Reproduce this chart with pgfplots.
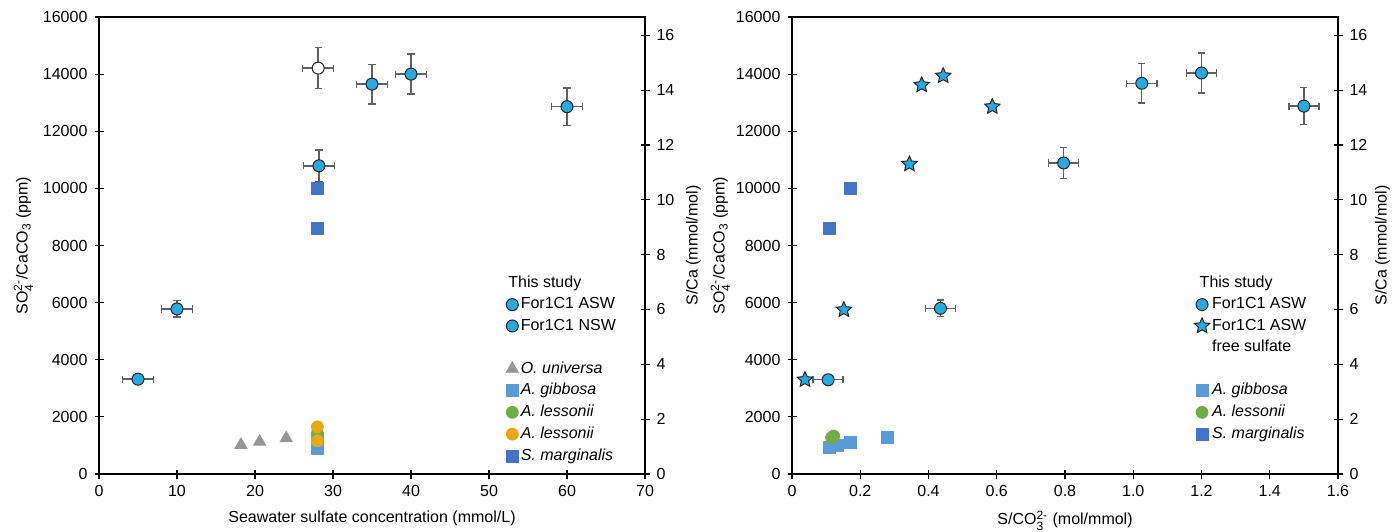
\documentclass[border=0pt]{standalone}
\usepackage{amsmath}
\usepackage{fontspec}
\setmainfont{Liberation Sans}
\usepackage{pgfplots}
\pgfplotsset{compat=1.18}
\usetikzlibrary{plotmarks}

\definecolor{cblue}{RGB}{39,170,225}
\definecolor{cedge}{RGB}{35,35,35}
\definecolor{cgray}{RGB}{150,150,150}
\definecolor{cgib}{RGB}{91,155,213}
\definecolor{cgreen}{RGB}{112,173,71}
\definecolor{corange}{RGB}{232,168,20}
\definecolor{cmarg}{RGB}{68,114,196}
\definecolor{cerr}{RGB}{95,95,95}

% filled five-pointed star
\pgfdeclareplotmark{fstar}{%
  \pgfpathmoveto{\pgfpointpolar{90}{1.3\pgfplotmarksize}}%
  \pgfpathlineto{\pgfpointpolar{126}{0.62\pgfplotmarksize}}%
  \pgfpathlineto{\pgfpointpolar{162}{1.3\pgfplotmarksize}}%
  \pgfpathlineto{\pgfpointpolar{198}{0.62\pgfplotmarksize}}%
  \pgfpathlineto{\pgfpointpolar{234}{1.3\pgfplotmarksize}}%
  \pgfpathlineto{\pgfpointpolar{270}{0.62\pgfplotmarksize}}%
  \pgfpathlineto{\pgfpointpolar{306}{1.3\pgfplotmarksize}}%
  \pgfpathlineto{\pgfpointpolar{342}{0.62\pgfplotmarksize}}%
  \pgfpathlineto{\pgfpointpolar{18}{1.3\pgfplotmarksize}}%
  \pgfpathlineto{\pgfpointpolar{54}{0.62\pgfplotmarksize}}%
  \pgfpathclose
  \pgfusepathqfillstroke}

\pgfplotsset{
  panel/.style={
    width=273pt, height=228.5pt, scale only axis,
    ymin=0, ymax=16000, ytick={0,2000,...,16000},
    tick align=center, tick pos=left,
    major tick length=4.5pt,
    axis line style={line width=0.6pt},
    tick style={black, line width=0.6pt},
    scaled y ticks=false,
    yticklabel style={/pgf/number format/.cd, fixed, set thousands separator={}},
    /pgf/number format/assume math mode=true,
    ticklabel style={font=\fontsize{8}{9.6}\selectfont},
    label style={font=\fontsize{8}{9.6}\selectfont},
    ylabel={SO$_{\text{4}}^{\text{2-}}$/CaCO$_{\text{3}}$ (ppm)},
    legend style={draw=none, fill=none, font=\fontsize{8}{10.5}\selectfont,
      row sep=1.2pt, inner sep=0pt, cells={align=left},
      nodes={inner sep=1.2pt},
      /tikz/every even column/.style={column sep=0pt}},
    legend cell align=left,
  },
  twin/.style={
    width=273pt, height=228.5pt, scale only axis,
    axis x line=none, axis y line*=right,
    ymin=0, ymax=16.6667, ytick={0,2,...,16},
    tick align=center, major tick length=4.5pt,
    axis line style={line width=0.6pt},
    tick style={black, line width=0.6pt},
    /pgf/number format/assume math mode=true,
    ticklabel style={font=\fontsize{8}{9.6}\selectfont},
    label style={font=\fontsize{8}{9.6}\selectfont},
    ylabel={S/Ca (mmol/mol)},
  },
  ebars/.style={
    error bars/x dir=both, error bars/x explicit,
    error bars/y dir=both, error bars/y explicit,
    error bars/error bar style={cerr, line width=0.7pt},
    error bars/error mark options={rotate=90, mark size=1.8pt, cerr, line width=0.7pt},
  },
  bluedot/.style={only marks, mark=*, mark size=3.0pt,
    mark options={fill=cblue, draw=cedge, line width=0.5pt}},
  bluestar/.style={only marks, mark=fstar, mark size=3.1pt,
    mark options={fill=cblue, draw=cedge, line width=0.5pt}},
}
\newcommand{\txt}[1]{\textit{#1}}
\newcommand{\blank}{\vphantom{Ag}}

\begin{document}
\begin{tikzpicture}
\useasboundingbox (-49.5pt,-28.5pt) rectangle (650.5pt,237pt);

% ---------------- left panel ----------------
\begin{axis}[panel, at={(0pt,0pt)},
  xmin=0, xmax=70, xtick={0,10,...,70},
  ylabel shift=-2pt,
  xlabel={Seawater sulfate concentration (mmol/L)},
  legend style={at={(0.725,0.44)}, anchor=north west}]

\addplot[only marks, mark=triangle*, mark size=3.5pt, color=cgray, forget plot]
coordinates {(18.2,1020) (20.6,1130) (24.0,1250)};
\addplot[only marks, mark=square*, mark size=3pt, color=cgib, forget plot]
coordinates {(28,910) (28,1260)};
\addplot[only marks, mark=*, mark size=3pt, color=cgreen, forget plot]
coordinates {(28,1420)};
\addplot[only marks, mark=*, mark size=3pt, color=corange, forget plot]
coordinates {(28,1160) (28,1650)};
\addplot[only marks, mark=square*, mark size=3pt, color=cmarg, forget plot]
coordinates {(28,8600) (28,10000)};

\addplot[forget plot, only marks, mark=*, mark size=3.0pt,
  mark options={fill=white, draw=cedge, line width=0.5pt}, ebars]
table[x=x, y=y, x error=ex, y error=ey] {
x y ex ey
28.1 14210 2.0 720
};
\addplot[forget plot, bluedot, ebars]
table[x=x, y=y, x error=ex, y error=ey] {
x y ex ey
5 3320 2.0 120
10 5780 2.0 290
28.2 10790 2.0 550
35 13650 2.0 690
40 14000 2.0 700
60 12860 2.0 650
};

\addlegendimage{empty legend}\addlegendentry{\hspace*{-6.2pt}This study}
\addlegendimage{bluedot}\addlegendentry{For1C1 ASW}
\addlegendimage{bluedot}\addlegendentry{For1C1 NSW}
\addlegendimage{empty legend}\addlegendentry{\blank}
\addlegendimage{only marks, mark=triangle*, mark size=3.5pt, color=cgray}\addlegendentry{\txt{O. universa}}
\addlegendimage{only marks, mark=square*, mark size=3pt, color=cgib}\addlegendentry{\txt{A. gibbosa}}
\addlegendimage{only marks, mark=*, mark size=3pt, color=cgreen}\addlegendentry{\txt{A. lessonii}}
\addlegendimage{only marks, mark=*, mark size=3pt, color=corange}\addlegendentry{\txt{A. lessonii}}
\addlegendimage{only marks, mark=square*, mark size=3pt, color=cmarg}\addlegendentry{\txt{S. marginalis}}
\end{axis}
\begin{axis}[twin, at={(0pt,0pt)}, xmin=0, xmax=70, ylabel shift=-1pt]
\end{axis}

% ---------------- right panel ----------------
\begin{axis}[panel, at={(346.5pt,0pt)},
  xmin=0, xmax=1.6, xtick={0,0.2,...,1.6},
  xticklabels={0,0.2,0.4,0.6,0.8,1.0,1.2,1.4,1.6},
  ylabel shift=-4pt,
  xlabel={S/CO$_{\text{3}}^{\text{2-}}$ (mol/mmol)},
  legend style={at={(0.719,0.44)}, anchor=north west}]

\addplot[only marks, mark=square*, mark size=3pt, color=cgib, forget plot]
coordinates {(0.111,935) (0.133,1015) (0.17,1096) (0.28,1272)};
\addplot[only marks, mark=*, mark size=3pt, color=cgreen, forget plot]
coordinates {(0.116,1272) (0.122,1330)};
\addplot[only marks, mark=square*, mark size=3pt, color=cmarg, forget plot]
coordinates {(0.111,8600) (0.17,10000)};

\addplot[forget plot, bluedot, ebars]
table[x=x, y=y, x error=ex, y error=ey] {
x y ex ey
0.106 3300 0.044 120
0.435 5800 0.044 290
0.796 10890 0.044 540
1.025 13680 0.044 690
1.2 14040 0.044 700
1.5 12880 0.044 650
};
\addplot[forget plot, bluestar]
coordinates {(0.038,3300) (0.152,5750) (0.344,10850) (0.38,13620) (0.443,13940) (0.587,12860)};

\addlegendimage{empty legend}\addlegendentry{\hspace*{-6.2pt}This study}
\addlegendimage{bluedot}\addlegendentry{For1C1 ASW}
\addlegendimage{bluestar}\addlegendentry{For1C1 ASW}
\addlegendimage{empty legend}\addlegendentry{free sulfate}
\addlegendimage{empty legend}\addlegendentry{\blank}
\addlegendimage{only marks, mark=square*, mark size=3pt, color=cgib}\addlegendentry{\txt{A. gibbosa}}
\addlegendimage{only marks, mark=*, mark size=3pt, color=cgreen}\addlegendentry{\txt{A. lessonii}}
\addlegendimage{only marks, mark=square*, mark size=3pt, color=cmarg}\addlegendentry{\txt{S. marginalis}}
\end{axis}
\begin{axis}[twin, at={(346.5pt,0pt)}, xmin=0, xmax=1.6, ylabel shift=-3pt]
\end{axis}
\end{tikzpicture}
\end{document}
